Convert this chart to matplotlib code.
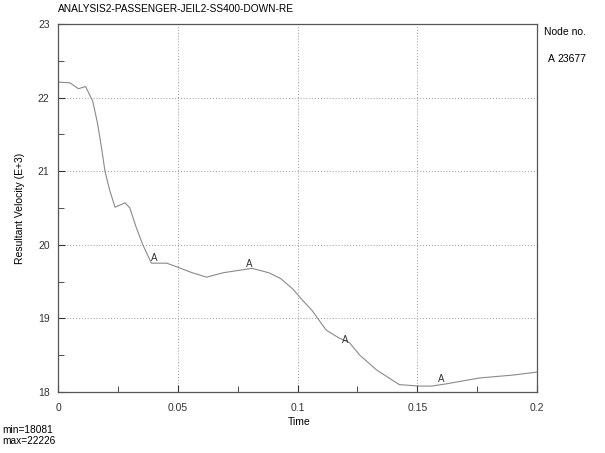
import matplotlib.pyplot as plt
from matplotlib.ticker import MultipleLocator

plt.rcParams['font.family'] = ['Liberation Sans', 'DejaVu Sans']

# resultant velocity history for node 23677 (E+3)
time = [0.0, 0.005, 0.0085, 0.0115, 0.0145, 0.0165, 0.0183, 0.0196, 0.0215,
        0.0238, 0.028, 0.030, 0.0325, 0.0354, 0.039, 0.0454, 0.0496, 0.056,
        0.062, 0.069, 0.077, 0.081, 0.088, 0.093, 0.098, 0.102, 0.106, 0.112,
        0.1175, 0.1217, 0.126, 0.133, 0.1425, 0.151, 0.156, 0.162, 0.176,
        0.19, 0.2]
velocity = [22.21, 22.2, 22.12, 22.15, 21.95, 21.65, 21.29, 21.0, 20.75,
            20.51, 20.57, 20.5, 20.25, 20.0, 19.75, 19.75, 19.70, 19.62,
            19.56, 19.62, 19.66, 19.68, 19.62, 19.54, 19.40, 19.25, 19.11,
            18.84, 18.73, 18.67, 18.50, 18.30, 18.10, 18.08, 18.08, 18.11,
            18.19, 18.23, 18.27]
marker_times = [0.04, 0.08, 0.12, 0.16]
marker_values = [19.75, 19.67, 18.64, 18.10]
node_id = '23677'
v_min, v_max = 18081, 22226

fig = plt.figure(figsize=(6.05, 4.53), dpi=100)
ax = fig.add_axes([0.0959, 0.1347, 0.7917, 0.8124])

ax.plot(time, velocity, color='#8a8a8a', lw=0.8)
for t, v in zip(marker_times, marker_values):
    ax.text(t, v + 0.07, 'A', fontsize=7, ha='center', va='center', color='#333333')

ax.set_xlim(0, 0.2)
ax.set_ylim(18, 23)
ax.xaxis.set_major_locator(MultipleLocator(0.05))
ax.xaxis.set_minor_locator(MultipleLocator(0.025))
ax.yaxis.set_major_locator(MultipleLocator(1))
ax.yaxis.set_minor_locator(MultipleLocator(0.5))
ax.set_xticks([0, 0.05, 0.1, 0.15, 0.2])
ax.set_xticklabels(['0', '0.05', '0.1', '0.15', '0.2'])
ax.grid(True, which='major', color='#9a9a9a', ls=(0, (1, 2)), lw=0.7)
ax.tick_params(axis='both', which='both', direction='in', labelsize=7.5,
               colors='#333333', top=False, right=False)
ax.tick_params(axis='both', which='major', length=5)
ax.tick_params(axis='both', which='minor', length=4)
ax.tick_params(axis='x', which='major', pad=8)
ax.tick_params(axis='y', which='major', pad=6)
for side in ax.spines.values():
    side.set_color('#555555')
    side.set_linewidth(0.9)

ax.set_ylabel('Resultant Velocity (E+3)', fontsize=7.5, labelpad=9)
fig.text(0.096, 0.968, 'ANALYSIS2-PASSENGER-JEIL2-SS400-DOWN-RE',
         fontsize=7.3, ha='left', va='bottom')
fig.text(0.495, 0.068, 'Time', fontsize=7.5, ha='center', va='center')
fig.text(0.003, 0.05, 'min=%d' % v_min, fontsize=7.3, ha='left', va='center')
fig.text(0.003, 0.026, 'max=%d' % v_max, fontsize=7.3, ha='left', va='center')
fig.text(0.9, 0.93, 'Node no.', fontsize=7.5, ha='left', va='center')
fig.text(0.905, 0.87, 'A', fontsize=7.5, ha='left', va='center')
fig.text(0.922, 0.87, node_id, fontsize=7.5, ha='left', va='center')

fig.savefig('out.png', dpi=100)
